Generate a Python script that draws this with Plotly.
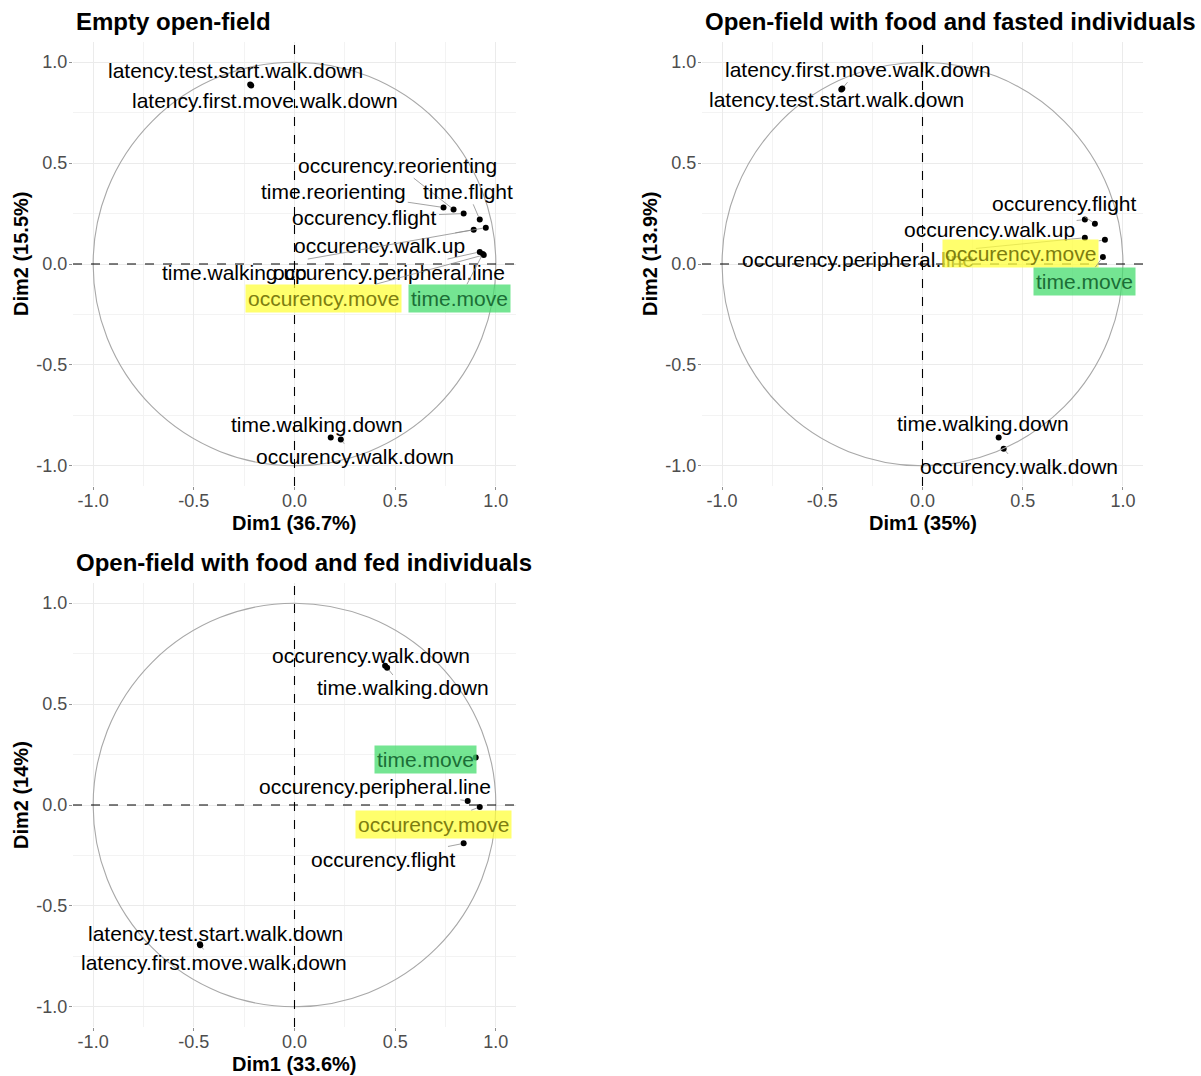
import plotly.graph_objects as go

W, H = 1201, 1076

# ---------------- data ----------------
titles = ["Empty open-field",
          "Open-field with food and fasted individuals",
          "Open-field with food and fed individuals"]
dim1_titles = ["Dim1 (36.7%)", "Dim1 (35%)", "Dim1 (33.6%)"]
dim2_titles = ["Dim2 (15.5%)", "Dim2 (13.9%)", "Dim2 (14%)"]

p1_vars = ["latency.test.start.walk.down", "latency.first.move.walk.down",
           "occurency.reorienting", "time.reorienting", "time.flight",
           "occurency.flight", "occurency.walk.up", "time.walking.up",
           "occurency.peripheral.line", "occurency.move", "time.move",
           "time.walking.down", "occurency.walk.down"]
p1_dim1 = [-0.22, -0.215, 0.79, 0.74, 0.92, 0.84, 0.89, 0.95, 0.92, 0.94, 0.935, 0.18, 0.23]
p1_dim2 = [0.89, 0.885, 0.27, 0.28, 0.22, 0.25, 0.17, 0.18, 0.06, 0.045, 0.05, -0.86, -0.87]

p2_vars = ["latency.first.move.walk.down", "latency.test.start.walk.down",
           "occurency.flight", "occurency.walk.up", "occurency.peripheral.line",
           "occurency.move", "time.move", "time.walking.down", "occurency.walk.down"]
p2_dim1 = [-0.40, -0.405, 0.86, 0.81, 0.81, 0.91, 0.90, 0.38, 0.405]
p2_dim2 = [0.87, 0.865, 0.20, 0.22, 0.13, 0.12, 0.035, -0.86, -0.915]

p3_vars = ["occurency.walk.down", "time.walking.down", "time.move",
           "occurency.peripheral.line", "occurency.move", "occurency.flight",
           "latency.test.start.walk.down", "latency.first.move.walk.down"]
p3_dim1 = [0.45, 0.46, 0.90, 0.86, 0.92, 0.84, -0.47, -0.468]
p3_dim2 = [0.69, 0.68, 0.235, 0.02, -0.01, -0.19, -0.69, -0.695]

tick_vals = [-1.0, -0.5, 0.0, 0.5, 1.0]
tick_text = ["-1.0", "-0.5", "0.0", "0.5", "1.0"]
minor_vals = [-0.75, -0.25, 0.25, 0.75]

# ---------------- layout helpers (label placement, repel-like) ----------------
p1_label_pos = [(-0.295, 0.96), (-0.145, 0.81), (0.51, 0.49), (0.195, 0.36), (0.86, 0.36),
                (0.35, 0.23), (0.42, 0.09), (-0.30, -0.04), (0.47, -0.04),
                (0.145, -0.17), (0.82, -0.17), (0.11, -0.795), (0.30, -0.955)]
p2_label_pos = [(-0.32, 0.965), (-0.43, 0.815), (0.71, 0.30), (0.335, 0.17), (-0.32, 0.02),
                (0.49, 0.05), (0.81, -0.085), (0.30, -0.79), (0.48, -1.005)]
p3_label_pos = [(0.38, 0.74), (0.54, 0.58), (0.65, 0.225), (0.40, 0.09), (0.69, -0.095),
                (0.44, -0.27), (-0.39, -0.635), (-0.40, -0.78)]

highlight = {"occurency.move": ("rgba(255,255,60,0.75)", "#7d7d10"),
             "time.move": ("rgba(70,220,110,0.75)", "#1b6e36")}

# panel boxes in pixels: (left, top, right, bottom)
boxes = [(73, 42, 516, 486), (702, 42, 1143, 486), (73, 583, 516, 1027)]

FONT = "Arial, Liberation Sans, Helvetica, sans-serif"

def px_x(x):
    return x / W

def px_y(y):
    return 1 - y / H

fig = go.Figure()
annotations = []
shapes = []

panels = [(p1_vars, p1_dim1, p1_dim2, p1_label_pos),
          (p2_vars, p2_dim1, p2_dim2, p2_label_pos),
          (p3_vars, p3_dim1, p3_dim2, p3_label_pos)]

RNG = [-1.1, 1.1]

for i, (vars_, d1, d2, lpos) in enumerate(panels):
    k = "" if i == 0 else str(i + 1)
    xa, ya = "x" + k, "y" + k
    l, t, r, b = boxes[i]
    axis_common = dict(
        range=RNG, tickmode="array", tickvals=tick_vals, ticktext=tick_text,
        showgrid=True, gridcolor="#ebebeb", gridwidth=1.1, zeroline=False, showline=False,
        ticks="outside", ticklen=3, tickcolor="#909090", tickwidth=1,
        tickfont=dict(family=FONT, size=18, color="#4d4d4d"),
        minor=dict(tickmode="array", tickvals=minor_vals, showgrid=True,
                   gridcolor="#f3f3f3", gridwidth=0.7, ticks=""),
        fixedrange=True,
    )
    fig.update_layout(**{
        "xaxis" + k: dict(axis_common, domain=[px_x(l), px_x(r)], anchor=ya,
                          ticklabelstandoff=-5),
        "yaxis" + k: dict(axis_common, domain=[px_y(b), px_y(t)], anchor=xa,
                          ticklabelstandoff=-2),
    })
    # correlation circle
    shapes.append(dict(type="circle", xref=xa, yref=ya, x0=-1, y0=-1, x1=1, y1=1,
                       line=dict(color="#a8a8a8", width=1.1), layer="above"))
    # dashed zero lines
    shapes.append(dict(type="line", xref=xa, yref=ya, x0=0, x1=0, y0=RNG[0], y1=RNG[1],
                       line=dict(color="black", width=1.1, dash="dash"), layer="above"))
    shapes.append(dict(type="line", xref=xa, yref=ya, x0=RNG[0], x1=RNG[1], y0=0, y1=0,
                       line=dict(color="black", width=1.1, dash="dash"), layer="above"))
    # points
    fig.add_trace(go.Scatter(x=d1, y=d2, mode="markers", xaxis=xa, yaxis=ya,
                             marker=dict(color="black", size=6), showlegend=False,
                             hoverinfo="text", text=vars_))
    # labels
    for name, px_, py_, (lx, ly) in zip(vars_, d1, d2, lpos):
        ann = dict(x=px_, y=py_, xref=xa, yref=ya, ax=lx, ay=ly, axref=xa, ayref=ya,
                   text=name, showarrow=True, arrowhead=0, arrowwidth=0.8,
                   arrowcolor="#8c8c8c", standoff=3,
                   font=dict(family=FONT, size=21, color="black"))
        if name in highlight:
            bg, fc = highlight[name]
            ann.update(bgcolor=bg, borderpad=2, font=dict(family=FONT, size=21, color=fc))
        annotations.append(ann)
    # panel title
    annotations.append(dict(x=px_x(l + 1), y=px_y(t - 21), xref="paper", yref="paper",
                            xanchor="left", yanchor="middle", showarrow=False,
                            text="<b>" + titles[i] + "</b>",
                            font=dict(family=FONT, size=24, color="black")))
    # axis titles
    annotations.append(dict(x=px_x((l + r) / 2), y=px_y(b + 37), xref="paper", yref="paper",
                            xanchor="center", yanchor="middle", showarrow=False,
                            text="<b>" + dim1_titles[i] + "</b>",
                            font=dict(family=FONT, size=20, color="black")))
    annotations.append(dict(x=px_x(l - 52), y=px_y((t + b) / 2 - 10), xref="paper", yref="paper",
                            xanchor="center", yanchor="middle", showarrow=False, textangle=-90,
                            text="<b>" + dim2_titles[i] + "</b>",
                            font=dict(family=FONT, size=20, color="black")))

fig.update_layout(width=W, height=H, autosize=False,
                  margin=dict(l=0, r=0, t=0, b=0, pad=0),
                  paper_bgcolor="white", plot_bgcolor="white",
                  annotations=annotations, shapes=shapes, showlegend=False,
                  font=dict(family=FONT))

fig.write_html("out.html", config={"displayModeBar": False},
               post_script="document.body.style.margin='0';document.body.style.overflow='hidden';")
